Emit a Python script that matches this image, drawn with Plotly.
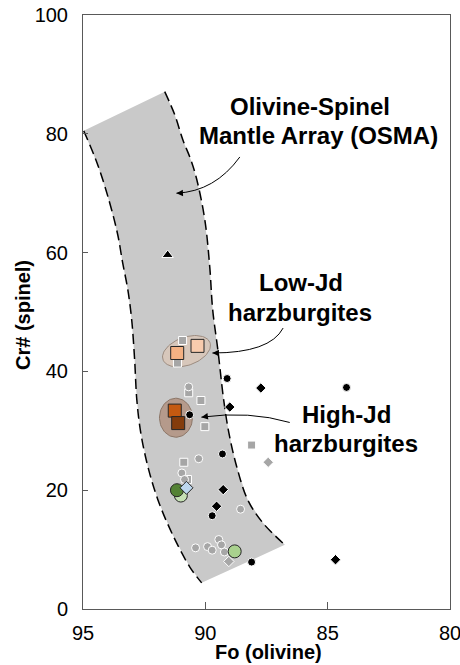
import numpy as np
import plotly.graph_objects as go

# ---------------- data ----------------
# OSMA band boundaries (Fo, Cr#)
osma_left_fo = [94.97, 94.40, 93.91, 93.58, 93.38, 93.17, 93.01, 92.89, 92.80, 92.64, 92.35, 91.94, 91.37, 90.64, 90.15]
osma_left_cr = [80.5, 74.8, 68.4, 63.0, 58.3, 53.8, 48.7, 42.0, 35.2, 29.7, 24.0, 18.4, 12.8, 7.1, 4.4]
osma_right_fo = [91.66, 91.25, 90.92, 90.59, 90.35, 90.02, 89.82, 89.70, 89.49, 89.25, 89.04, 88.72, 88.27, 87.65, 86.75]
osma_right_cr = [87.1, 83.2, 79.0, 75.6, 72.3, 65.5, 57.6, 50.4, 43.7, 35.2, 29.7, 24.0, 18.4, 14.5, 10.8]

# literature peridotites (grey, black)
grey_circle_fo = [90.68, 90.27, 90.96, 90.85, 88.56, 90.40, 89.91, 89.72, 89.45, 89.34, 89.22]
grey_circle_cr = [37.4, 25.3, 22.9, 21.8, 16.8, 10.3, 10.5, 9.9, 11.7, 10.8, 9.6]
grey_square_fo = [90.93, 91.14, 90.68, 90.18, 90.02, 90.88, 90.73, 88.11]
grey_square_cr = [45.2, 41.4, 36.4, 35.1, 30.7, 24.7, 21.8, 27.6]
grey_diamond_fo = [89.04, 87.43]
grey_diamond_cr = [8.0, 24.7]
black_dot_fo = [89.11, 84.23, 90.64, 89.30, 89.72, 88.11]
black_dot_cr = [38.8, 37.3, 32.7, 26.1, 15.7, 7.9]
black_diamond_fo = [87.73, 89.00, 89.27, 89.54, 84.68]
black_diamond_cr = [37.2, 34.0, 20.1, 17.3, 8.3]
black_triangle_fo = [91.54]
black_triangle_cr = [59.6]

# this study
lowjd_fo = [91.15, 90.32]
lowjd_cr = [43.1, 44.3]
lowjd_colors = ["#f4b183", "#f8cbad"]
highjd_fo = [91.25, 91.11]
highjd_cr = [33.4, 31.3]
highjd_colors = ["#c55a11", "#843c0c"]
green_fo = [91.00, 91.16, 88.80]
green_cr = [19.1, 20.0, 9.7]
green_colors = ["#c5e0b4", "#548235", "#a9d18e"]
blue_fo = [90.77]
blue_cr = [20.4]

# ---------------- geometry ----------------
W, H = 460, 665
ML, MR, MT, MB = 83, 10, 15, 56
X_RANGE = [95, 80]
Y_RANGE = [0, 100]
px_per_fo = (W - ML - MR) / abs(X_RANGE[0] - X_RANGE[1])
px_per_cr = (H - MT - MB) / (Y_RANGE[1] - Y_RANGE[0])


def ellipse(cx, cy, a_px, b_px, angle_deg, n=80):
    t = np.linspace(0, 2 * np.pi, n)
    th = np.radians(angle_deg)
    dx = a_px * np.cos(t) * np.cos(th) - b_px * np.sin(t) * np.sin(th)
    dy = a_px * np.cos(t) * np.sin(th) + b_px * np.sin(t) * np.cos(th)
    return cx - dx / px_per_fo, cy + dy / px_per_cr


fig = go.Figure()

# OSMA band
band_fo = osma_left_fo + osma_right_fo[::-1]
band_cr = osma_left_cr + osma_right_cr[::-1]
fig.add_trace(go.Scatter(x=band_fo, y=band_cr, mode="lines", fill="toself",
                         fillcolor="#c9c9c9", line=dict(width=0), hoverinfo="skip"))
for fo, cr in [(osma_left_fo, osma_left_cr), (osma_right_fo, osma_right_cr)]:
    fig.add_trace(go.Scatter(x=fo, y=cr, mode="lines",
                             line=dict(color="black", width=1.5, dash="10px,5px", shape="spline"),
                             hoverinfo="skip"))

# group ellipses
ex, ey = ellipse(90.77, 43.4, 25, 14, 20)
fig.add_trace(go.Scatter(x=ex, y=ey, mode="lines", fill="toself", fillcolor="#d7c7bb",
                         line=dict(color="#9c8c80", width=1), hoverinfo="skip"))
ex, ey = ellipse(91.20, 32.2, 16.5, 19.5, 0)
fig.add_trace(go.Scatter(x=ex, y=ey, mode="lines", fill="toself", fillcolor="#b59a8b",
                         line=dict(color="#8c7667", width=1), hoverinfo="skip"))

# literature data
grey = "#a6a6a6"
fig.add_trace(go.Scatter(x=grey_square_fo, y=grey_square_cr, mode="markers",
                         marker=dict(symbol="square", size=8, color=grey, line=dict(color="white", width=1))))
fig.add_trace(go.Scatter(x=grey_circle_fo, y=grey_circle_cr, mode="markers",
                         marker=dict(symbol="circle", size=8, color=grey, line=dict(color="white", width=1))))
fig.add_trace(go.Scatter(x=grey_diamond_fo, y=grey_diamond_cr, mode="markers",
                         marker=dict(symbol="diamond", size=8, color=grey, line=dict(color="white", width=1))))
fig.add_trace(go.Scatter(x=black_dot_fo, y=black_dot_cr, mode="markers",
                         marker=dict(symbol="circle", size=8, color="black", line=dict(color="white", width=1))))
fig.add_trace(go.Scatter(x=black_diamond_fo, y=black_diamond_cr, mode="markers",
                         marker=dict(symbol="diamond", size=8, color="black", line=dict(color="white", width=1))))
fig.add_trace(go.Scatter(x=black_triangle_fo, y=black_triangle_cr, mode="markers",
                         marker=dict(symbol="triangle-up", size=10, color="black", line=dict(color="white", width=1))))

# this study
edge = dict(color="#262626", width=1)
fig.add_trace(go.Scatter(x=lowjd_fo, y=lowjd_cr, mode="markers",
                         marker=dict(symbol="square", size=13, color=lowjd_colors, line=edge)))
fig.add_trace(go.Scatter(x=highjd_fo, y=highjd_cr, mode="markers",
                         marker=dict(symbol="square", size=13, color=highjd_colors, line=edge)))
fig.add_trace(go.Scatter(x=green_fo, y=green_cr, mode="markers",
                         marker=dict(symbol="circle", size=13, color=green_colors, line=edge)))
fig.add_trace(go.Scatter(x=blue_fo, y=blue_cr, mode="markers",
                         marker=dict(symbol="diamond", size=10, color="#bdd7ee", line=edge)))

# curved pointer arrows: (start, control, end)
arrows = [
    ((88.59, 76.1), (89.61, 70.3), (91.18, 70.0)),
    ((86.82, 47.3), (87.36, 43.1), (89.71, 43.1)),
    ((86.55, 31.4), (88.18, 33.4), (90.16, 32.3)),
]
shapes = []
annotations = []
for (x0, y0), (cx, cy), (x1, y1) in arrows:
    shapes.append(dict(type="path", xref="x", yref="y",
                       path=f"M {x0},{y0} Q {cx},{cy} {x1},{y1}",
                       line=dict(color="black", width=1)))
    annotations.append(dict(x=x1, y=y1, xref="x", yref="y",
                            ax=x1 + 0.12 * (cx - x1), ay=y1 + 0.12 * (cy - y1),
                            axref="x", ayref="y", text="", showarrow=True,
                            arrowhead=2, arrowsize=1.3, arrowwidth=1, arrowcolor="black",
                            standoff=0))

label_font = dict(family="Liberation Sans, Arial, sans-serif", size=24, color="black")
text_lines = [
    ("<b>Olivine-Spinel</b>", 310, 106.5),
    ("<b>Mantle Array (OSMA)</b>", 318, 135),
    ("<b>Low-Jd</b>", 301, 283),
    ("<b>harzburgites</b>", 300, 312),
    ("<b>High-Jd</b>", 346, 414.5),
    ("<b>harzburgites</b>", 346, 443),
]
for txt, px, py in text_lines:
    annotations.append(dict(text=txt, x=(px - ML) / (W - ML - MR), y=(H - MB - py) / (H - MT - MB),
                            xref="paper", yref="paper", showarrow=False,
                            xanchor="center", yanchor="middle", font=label_font))

title_font = dict(family="Liberation Sans, Arial, sans-serif", size=20, color="black")
annotations.append(dict(text="<b>Fo (olivine)</b>", x=(268 - ML) / (W - ML - MR),
                        y=(H - MB - 652) / (H - MT - MB), xref="paper", yref="paper",
                        showarrow=False, xanchor="center", yanchor="middle", font=title_font))
annotations.append(dict(text="<b>Cr# (spinel)</b>", x=(23 - ML) / (W - ML - MR),
                        y=(H - MB - 315) / (H - MT - MB), xref="paper", yref="paper",
                        showarrow=False, xanchor="center", yanchor="middle", textangle=-90,
                        font=title_font))

tick_font = dict(family="Liberation Sans, Arial, sans-serif", size=20, color="black")
fig.update_layout(
    width=W, height=H,
    margin=dict(l=ML, r=MR, t=MT, b=MB, autoexpand=False),
    paper_bgcolor="white", plot_bgcolor="white",
    showlegend=False,
    shapes=shapes,
    annotations=annotations,
    xaxis=dict(range=X_RANGE, tickvals=[95, 90, 85, 80], ticks="inside", ticklen=7,
               tickcolor="#595959", showline=True, linecolor="#595959", linewidth=1,
               mirror=True, showgrid=False, zeroline=False, tickfont=tick_font,
               ticklabelstandoff=6, ticklabeloverflow="allow", automargin=False),
    yaxis=dict(range=Y_RANGE, tickvals=[0, 20, 40, 60, 80, 100], ticks="inside", ticklen=5,
               tickcolor="#595959", showline=True, linecolor="#595959", linewidth=1,
               mirror=True, showgrid=False, zeroline=False, tickfont=tick_font,
               ticklabelstandoff=10, ticklabeloverflow="allow", automargin=False),
)

fig.write_html("out.html")
